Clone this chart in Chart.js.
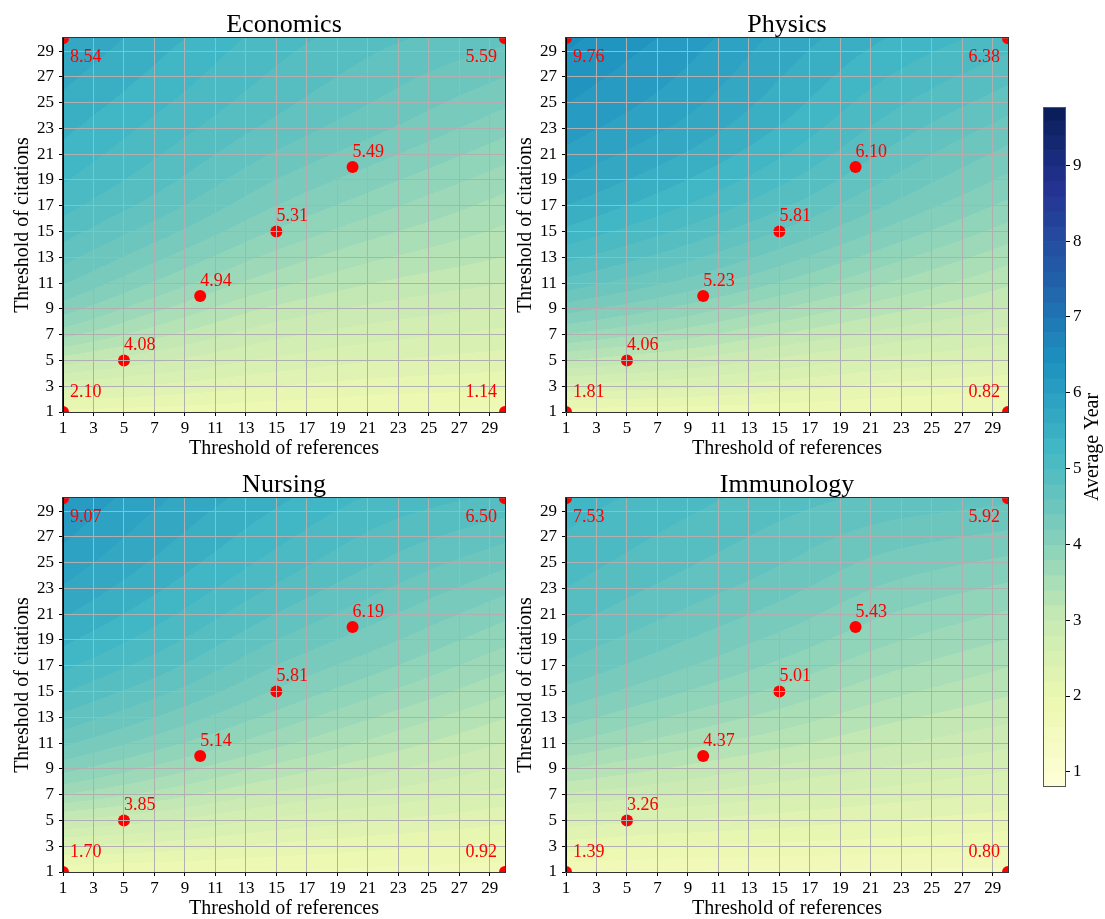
<!DOCTYPE html>
<html>
<head>
<meta charset="utf-8">
<script src="https://cdn.jsdelivr.net/npm/chart.js@4/dist/chart.umd.min.js"></script>
<style>
  html, body { margin: 0; padding: 0; background: #fff; }
  #wrap { position: relative; width: 1105px; height: 919px; overflow: hidden; }
  canvas { position: absolute; }
</style>
</head>
<body>
<div id="wrap">
  <canvas id="p0" width="520" height="460" style="left:0;top:0"></canvas>
  <canvas id="p1" width="520" height="460" style="left:503px;top:0"></canvas>
  <canvas id="p2" width="520" height="460" style="left:0;top:460px"></canvas>
  <canvas id="p3" width="520" height="460" style="left:503px;top:460px"></canvas>
  <canvas id="cb" width="105" height="720" style="left:1000px;top:90px"></canvas>
</div>
<script>
"use strict"

// ---- data ----
const panelTitles = ['Economics', 'Physics', 'Nursing', 'Immunology'];
const axisTicks = [1, 3, 5, 7, 9, 11, 13, 15, 17, 19, 21, 23, 25, 27, 29];
const colorTicks = [1, 2, 3, 4, 5, 6, 7, 8, 9];

// marked points: 4 corners, then the diagonal
const markRefs = [1, 30, 1, 30, 5, 10, 15, 20];
const markCits = [30, 30, 1, 1, 5, 10, 15, 20];
const economicsMarks = [8.54, 5.59, 2.10, 1.14, 4.08, 4.94, 5.31, 5.49];
const physicsMarks = [9.76, 6.38, 1.81, 0.82, 4.06, 5.23, 5.81, 6.10];
const nursingMarks = [9.07, 6.50, 1.70, 0.92, 3.85, 5.14, 5.81, 6.19];
const immunologyMarks = [7.53, 5.92, 1.39, 0.80, 3.26, 4.37, 5.01, 5.43];

// background surface: one row per reference threshold
const fieldRefs = [1, 8, 15, 22, 30];
const fieldCits = [1, 3, 5, 8, 12, 18, 24, 30];
const economicsField = [
  [1.95, 2.50, 3.10, 3.90, 4.55, 5.15, 5.50, 5.80],
  [1.90, 2.35, 2.80, 3.40, 4.05, 4.75, 5.15, 5.45],
  [1.85, 2.20, 2.55, 3.00, 3.60, 4.30, 4.80, 5.10],
  [1.80, 2.10, 2.40, 2.80, 3.30, 3.95, 4.50, 4.85],
  [1.75, 2.05, 2.30, 2.65, 3.10, 3.60, 4.15, 4.65]
];
const physicsField = [
  [1.90, 2.55, 3.20, 4.05, 4.90, 5.70, 6.15, 6.45],
  [1.88, 2.45, 3.00, 3.75, 4.55, 5.35, 5.85, 6.15],
  [1.85, 2.30, 2.75, 3.40, 4.15, 4.95, 5.45, 5.75],
  [1.82, 2.15, 2.55, 3.10, 3.75, 4.50, 5.00, 5.40],
  [1.80, 2.05, 2.40, 2.85, 3.35, 4.05, 4.60, 5.10]
];
const nursingField = [
  [1.85, 2.40, 3.00, 3.85, 4.60, 5.35, 5.85, 6.20],
  [1.80, 2.30, 2.80, 3.50, 4.20, 4.95, 5.45, 5.80],
  [1.78, 2.15, 2.55, 3.15, 3.80, 4.50, 5.05, 5.45],
  [1.74, 2.05, 2.40, 2.90, 3.45, 4.15, 4.70, 5.15],
  [1.70, 1.95, 2.25, 2.65, 3.10, 3.75, 4.35, 4.95]
];
const immunologyField = [
  [1.60, 2.10, 2.50, 3.20, 3.95, 4.65, 5.05, 5.30],
  [1.58, 2.00, 2.40, 3.00, 3.65, 4.35, 4.80, 5.10],
  [1.57, 1.95, 2.30, 2.80, 3.40, 4.05, 4.55, 4.90],
  [1.56, 1.90, 2.20, 2.65, 3.15, 3.75, 4.25, 4.75],
  [1.55, 1.85, 2.10, 2.50, 2.95, 3.50, 4.05, 4.65]
];
const colorMin = 0.80;
const colorMax = 9.77;

// ---- helpers ----
const SERIF = '"Liberation Serif", "DejaVu Serif", serif';
const YLGNBU = ['#ffffd9', '#edf8b1', '#c7e9b4', '#7fcdbb', '#41b6c4', '#1d91c0', '#225ea8', '#253494', '#081d58'];
const YLGNBU_RGB = YLGNBU.map(function(h){
  return [parseInt(h.substr(1, 2), 16), parseInt(h.substr(3, 2), 16), parseInt(h.substr(5, 2), 16)];
});
const LEVEL_STEP = 0.2;

function cmap(v){
  var t = (v - colorMin) / (colorMax - colorMin);
  t = Math.max(0, Math.min(1, t)) * (YLGNBU_RGB.length - 1);
  var i = Math.min(Math.floor(t), YLGNBU_RGB.length - 2), f = t - i;
  var a = YLGNBU_RGB[i], b = YLGNBU_RGB[i + 1];
  return [a[0] + (b[0] - a[0]) * f, a[1] + (b[1] - a[1]) * f, a[2] + (b[2] - a[2]) * f];
}
function levelColor(v){
  var k = Math.floor((v - colorMin) / LEVEL_STEP);
  return cmap(colorMin + (k + 0.5) * LEVEL_STEP);
}
function locate(arr, v){
  var i = 0;
  while (i < arr.length - 2 && v > arr[i + 1]) i++;
  var t = (v - arr[i]) / (arr[i + 1] - arr[i]);
  return [i, Math.max(0, Math.min(1, t))];
}
// monotone cubic through the read values, so the shading has no kinks
function pchip(xs, vs, x){
  var n = xs.length;
  function d(k){ return (vs[k + 1] - vs[k]) / (xs[k + 1] - xs[k]); }
  function m(k){
    if (k === 0) return d(0);
    if (k === n - 1) return d(n - 2);
    var a = d(k - 1), b = d(k);
    if (a * b <= 0) return 0;
    return 2 / (1 / a + 1 / b);
  }
  var p = locate(xs, x), i = p[0], t = p[1], h = xs[i + 1] - xs[i];
  var t2 = t * t, t3 = t2 * t;
  return (2 * t3 - 3 * t2 + 1) * vs[i] + (t3 - 2 * t2 + t) * h * m(i) +
         (-2 * t3 + 3 * t2) * vs[i + 1] + (t3 - t2) * h * m(i + 1);
}

function panelPlugin(field, marks){
  return {
    id: 'panel',
    beforeDatasetsDraw: function(chart){
      var ctx = chart.ctx, a = chart.chartArea;
      var xs = chart.scales.x, ys = chart.scales.y;
      var l = Math.round(a.left), t = Math.round(a.top);
      var w = Math.round(a.right) - l, h = Math.round(a.bottom) - t;
      var img = ctx.createImageData(w, h);
      var xv = [];
      for (var i = 0; i < w; i++) xv.push(xs.getValueForPixel(l + i + 0.5));
      for (var j = 0; j < h; j++){
        var yv = ys.getValueForPixel(t + j + 0.5);
        var col = field.map(function(r){ return pchip(fieldCits, r, yv); });
        for (i = 0; i < w; i++){
          var c = levelColor(pchip(fieldRefs, col, xv[i]));
          var o = (j * w + i) * 4;
          img.data[o] = c[0]; img.data[o + 1] = c[1]; img.data[o + 2] = c[2]; img.data[o + 3] = 255;
        }
      }
      ctx.putImageData(img, l, t);
    },
    afterDraw: function(chart){
      var ctx = chart.ctx, a = chart.chartArea;
      var xs = chart.scales.x, ys = chart.scales.y;
      ctx.save();
      ctx.strokeStyle = '#333';
      ctx.lineWidth = 1;
      ctx.strokeRect(Math.round(a.left) - 0.5, Math.round(a.top) - 0.5,
                     Math.round(a.right) - Math.round(a.left) + 1, Math.round(a.bottom) - Math.round(a.top) + 1);
      ctx.fillStyle = 'red';
      ctx.font = '18px ' + SERIF;
      ctx.textBaseline = 'middle';
      for (var k = 0; k < marks.length; k++){
        var px = xs.getPixelForValue(markRefs[k]), py = ys.getPixelForValue(markCits[k]);
        var txt = marks[k].toFixed(2);
        if (k < 4){
          var top = markCits[k] === 30;
          var leftSide = markRefs[k] === 1;
          ctx.textAlign = leftSide ? 'left' : 'right';
          ctx.fillText(txt, px + (leftSide ? 7 : -8), py + (top ? 19 : -20));
        } else {
          ctx.textAlign = 'left';
          ctx.fillText(txt, px, py - 15);
        }
      }
      ctx.restore();
    }
  };
}

Chart.defaults.color = '#000';
Chart.defaults.font.family = SERIF;

function makePanel(id, title, field, marks){
  var axisFont = { family: SERIF, size: 20 };
  var tickFont = { family: SERIF, size: 17 };
  return new Chart(document.getElementById(id), {
    type: 'scatter',
    data: {
      datasets: [{
        data: markRefs.map(function(x, i){ return { x: x, y: markCits[i] }; }),
        backgroundColor: '#ff0000',
        borderWidth: 0,
        pointRadius: 6,
        pointHoverRadius: 6,
        clip: 0
      }]
    },
    options: {
      responsive: false,
      animation: false,
      events: [],
      layout: { padding: { left: 0, right: 15, top: 0, bottom: 0 } },
      plugins: {
        legend: { display: false },
        tooltip: { enabled: false },
        title: {
          display: true, text: title, fullSize: false,
          font: { family: SERIF, size: 26, weight: 'normal' },
          color: '#000',
          padding: { top: 10, bottom: -3 }
        }
      },
      scales: {
        x: {
          type: 'linear', min: 1, max: 30,
          afterBuildTicks: function(s){ s.ticks = axisTicks.map(function(v){ return { value: v }; }); },
          afterFit: function(s){ s.height = 48; },
          ticks: { font: tickFont, padding: 2, autoSkip: false, maxRotation: 0 },
          grid: { color: '#b0b0b0', lineWidth: 1, tickLength: 4, tickColor: '#000', z: 1 },
          border: { color: '#000', z: 2 },
          title: { display: true, text: 'Threshold of references', font: axisFont, padding: { top: 0, bottom: -1 } }
        },
        y: {
          type: 'linear', min: 1, max: 30,
          afterBuildTicks: function(s){ s.ticks = axisTicks.map(function(v){ return { value: v }; }); },
          afterFit: function(s){ s.width = 63; },
          ticks: { font: tickFont, padding: 5, autoSkip: false },
          grid: { color: '#b0b0b0', lineWidth: 1, tickLength: 4, tickColor: '#000', z: 1 },
          border: { color: '#000', z: 2 },
          title: { display: true, text: 'Threshold of citations', font: axisFont, padding: { top: 11, bottom: 0 } }
        }
      }
    },
    plugins: [panelPlugin(field, marks)]
  });
}

makePanel('p0', panelTitles[0], economicsField, economicsMarks);
makePanel('p1', panelTitles[1], physicsField, physicsMarks);
makePanel('p2', panelTitles[2], nursingField, nursingMarks);
makePanel('p3', panelTitles[3], immunologyField, immunologyMarks);

// colour bar
new Chart(document.getElementById('cb'), {
  type: 'scatter',
  data: { datasets: [] },
  options: {
    responsive: false,
    animation: false,
    events: [],
    layout: { padding: { left: 43, right: 0, top: 17, bottom: 23 } },
    plugins: { legend: { display: false }, tooltip: { enabled: false } },
    scales: {
      x: { display: false, min: 0, max: 1 },
      y: {
        position: 'right', min: colorMin, max: colorMax,
        afterBuildTicks: function(s){ s.ticks = colorTicks.map(function(v){ return { value: v }; }); },
        afterFit: function(s){ s.width = 39; },
        ticks: { font: { family: SERIF, size: 17 }, padding: 3 },
        grid: { drawOnChartArea: false, tickLength: 4, tickColor: '#000' },
        border: { display: false }
      }
    }
  },
  plugins: [{
    id: 'colorbar',
    beforeDatasetsDraw: function(chart){
      var ctx = chart.ctx, a = chart.chartArea, ys = chart.scales.y;
      ctx.save();
      for (var v = colorMin; v < colorMax; v += LEVEL_STEP){
        var c = cmap(v + LEVEL_STEP / 2);
        var y0 = ys.getPixelForValue(Math.min(v + LEVEL_STEP, colorMax)), y1 = ys.getPixelForValue(v);
        ctx.fillStyle = 'rgb(' + Math.round(c[0]) + ',' + Math.round(c[1]) + ',' + Math.round(c[2]) + ')';
        ctx.fillRect(a.left, y0, a.right - a.left, y1 - y0 + 0.6);
      }
      ctx.strokeStyle = '#555';
      ctx.lineWidth = 1;
      ctx.strokeRect(Math.round(a.left) + 0.5, Math.round(a.top) + 0.5,
                     Math.round(a.right - a.left) - 1, Math.round(a.bottom - a.top) - 1);
      ctx.restore();
    },
    afterDraw: function(chart){
      var ctx = chart.ctx, a = chart.chartArea;
      ctx.save();
      ctx.translate(93, (a.top + a.bottom) / 2);
      ctx.rotate(-Math.PI / 2);
      ctx.font = '20px ' + SERIF;
      ctx.fillStyle = '#000';
      ctx.textAlign = 'center';
      ctx.textBaseline = 'middle';
      ctx.fillText('Average Year', 0, 0);
      ctx.restore();
    }
  }]
});
</script>
</body>
</html>
